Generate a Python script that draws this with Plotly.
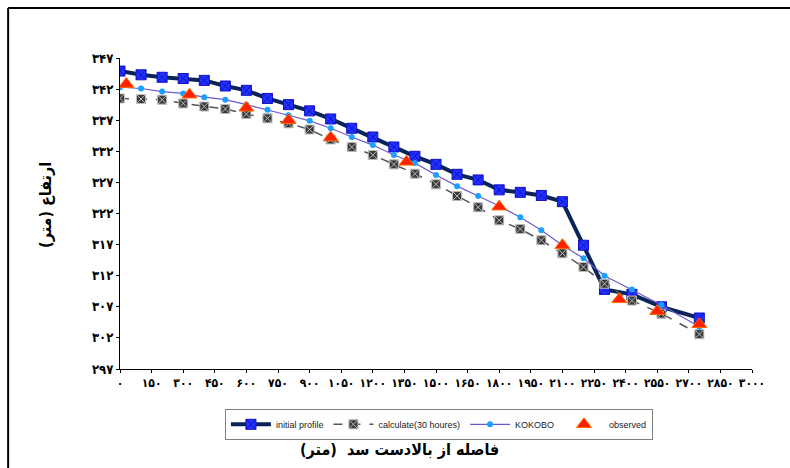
import plotly.graph_objects as go

# ---- data ----
x_profile = [0, 100, 200, 300, 400, 500, 600, 700, 800, 900, 1000, 1100, 1200,
             1300, 1400, 1500, 1600, 1700, 1800, 1900, 2000, 2100, 2200, 2300,
             2430, 2570, 2750]
initial_profile = [344.9, 344.3, 343.9, 343.7, 343.4, 342.5, 341.8, 340.5, 339.5,
                   338.5, 337.2, 335.7, 334.3, 332.7, 331.2, 329.9, 328.3, 327.4,
                   325.8, 325.4, 324.9, 323.9, 316.9, 309.8, 309.0, 307.0, 305.2]
calculate_30h = [340.5, 340.4, 340.3, 339.7, 339.2, 338.8, 338.0, 337.3, 336.5,
                 335.5, 333.9, 332.7, 331.4, 329.9, 328.4, 326.7, 324.8, 323.0,
                 320.9, 319.5, 317.7, 315.6, 313.4, 310.7, 308.0, 305.9, 302.6]
kokobo = [342.3, 342.1, 341.6, 341.3, 340.7, 340.3, 339.5, 338.7, 337.8, 336.9,
          335.7, 334.3, 333.0, 331.4, 330.1, 328.2, 326.4, 324.8, 323.2, 321.4,
          319.3, 316.9, 314.8, 312.0, 309.8, 307.3, 303.8]
x_observed = [30, 330, 600, 800, 1000, 1360, 1800, 2100, 2370, 2550, 2750]
observed = [342.8, 341.1, 339.0, 337.0, 334.2, 330.3, 323.1, 316.9, 308.2, 306.3, 304.2]

x_ticks = list(range(0, 3001, 150))
y_ticks = list(range(297, 348, 5))

PERSIAN = str.maketrans("0123456789", "۰۱۲۳۴۵۶۷۸۹")
def fa(n):
    return "<b>" + str(n).translate(PERSIAN) + "</b>"

x_ticktext = [fa(v) for v in x_ticks]
y_ticktext = [fa(v) for v in y_ticks]

FONT = "DejaVu Sans Condensed"

fig = go.Figure()
fig.add_trace(go.Scatter(
    x=x_profile, y=initial_profile, name="initial profile",
    mode="lines+markers",
    line=dict(color="#0b2458", width=4),
    marker=dict(symbol="square-x", size=10, color="#2030ff",
                line=dict(color="#1010c0", width=1)),
))
fig.add_trace(go.Scatter(
    x=x_profile, y=calculate_30h, name="calculate(30 houres)",
    mode="lines+markers",
    line=dict(color="#555555", width=1.5, dash="dash"),
    marker=dict(symbol="square-x", size=9, color="#3a3a3a",
                line=dict(color="#bbbbbb", width=1)),
))
fig.add_trace(go.Scatter(
    x=x_profile, y=kokobo, name="KOKOBO",
    mode="lines+markers",
    line=dict(color="#6a5acd", width=1.2),
    marker=dict(symbol="circle", size=6, color="#1aa0ff"),
))
fig.add_trace(go.Scatter(
    x=x_observed, y=observed, name="observed",
    mode="markers",
    marker=dict(symbol="triangle-up", size=13, color="#ff2000",
                line=dict(color="#ff6a00", width=1)),
))

fig.update_layout(
    width=790, height=468,
    margin=dict(l=120, r=38, t=58, b=99),
    paper_bgcolor="white", plot_bgcolor="white",
    font=dict(family=FONT, color="black"),
    showlegend=True,
    legend=dict(
        orientation="h", x=0.166, y=-0.128, xanchor="left", yanchor="top",
        bordercolor="#808080", borderwidth=1,
        font=dict(family="Liberation Sans", size=9, color="#222222"),
        itemwidth=40, tracegroupgap=0,
    ),
    xaxis=dict(
        range=[0, 3000], tickmode="array", tickvals=x_ticks, ticktext=x_ticktext,
        showgrid=False, zeroline=False, showline=True, linecolor="black", linewidth=1,
        ticks="outside", ticklen=3, tickcolor="black",
        tickfont=dict(family=FONT, size=12, color="black"),
    ),
    yaxis=dict(
        range=[297, 347], tickmode="array", tickvals=y_ticks, ticktext=y_ticktext,
        showgrid=False, zeroline=False, showline=True, linecolor="black", linewidth=1,
        ticks="outside", ticklen=3, tickcolor="black",
        tickfont=dict(family=FONT, size=13, color="black"),
    ),
    annotations=[
        dict(text="<b>ارتفاع (متر)</b>", xref="paper", yref="paper",
             x=-0.119, y=0.527, xanchor="center", yanchor="middle",
             textangle=-90, showarrow=False,
             font=dict(family=FONT, size=16, color="black")),
        dict(text="<b>فاصله از بالادست سد  (متر)</b>", xref="paper", yref="paper",
             x=0.443, y=-0.26, xanchor="center", yanchor="middle", showarrow=False,
             font=dict(family=FONT, size=16, color="black")),
    ],
    shapes=[
        dict(type="line", xref="paper", yref="paper",
             x0=-0.177, x1=1.2, y0=1.161, y1=1.161,
             line=dict(color="black", width=2)),
        dict(type="line", xref="paper", yref="paper",
             x0=-0.177, x1=-0.177, y0=1.161, y1=-0.5,
             line=dict(color="black", width=2)),
    ],
)

fig.write_html("out.html", config={"displayModeBar": False},
               post_script="document.body.style.margin='0px';document.body.style.overflow='hidden';")
